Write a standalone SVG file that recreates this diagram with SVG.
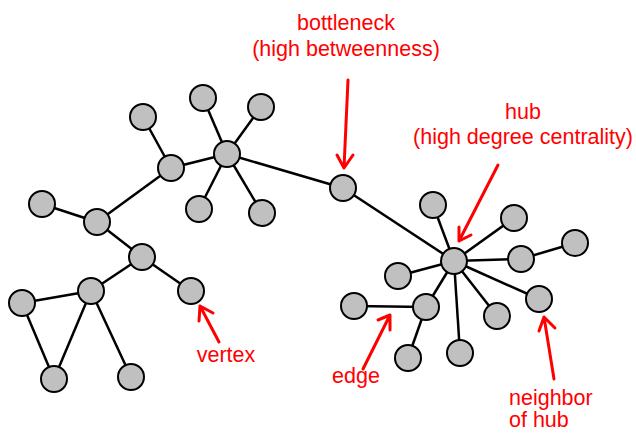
<svg xmlns="http://www.w3.org/2000/svg" width="636" height="433" viewBox="0 0 636 433">
<style>
.e{stroke:#000;stroke-width:2.5;fill:none}
.n{fill:#c0c0c0;stroke:#000;stroke-width:2}
.a{stroke:#ff0000;stroke-width:3;fill:none;stroke-linecap:round;stroke-linejoin:round}
.t{fill:#ff0000;font-family:"Liberation Sans",Arial,sans-serif;font-size:21.5px;text-anchor:middle}
.s{text-anchor:start}
</style>
<rect width="636" height="433" fill="#fff"/>
<g id="edges">
<line class="e" x1="143" y1="117" x2="171" y2="168"/>
<line class="e" x1="171" y1="168" x2="227" y2="154"/>
<line class="e" x1="227" y1="154" x2="203" y2="98"/>
<line class="e" x1="227" y1="154" x2="261" y2="107"/>
<line class="e" x1="227" y1="154" x2="199" y2="209"/>
<line class="e" x1="227" y1="154" x2="262" y2="213"/>
<line class="e" x1="227" y1="154" x2="343" y2="188"/>
<line class="e" x1="171" y1="168" x2="97" y2="222"/>
<line class="e" x1="42" y1="204" x2="97" y2="222"/>
<line class="e" x1="97" y1="222" x2="142" y2="257"/>
<line class="e" x1="142" y1="257" x2="91" y2="291"/>
<line class="e" x1="142" y1="257" x2="191" y2="291"/>
<line class="e" x1="91" y1="291" x2="22" y2="303"/>
<line class="e" x1="91" y1="291" x2="54" y2="379"/>
<line class="e" x1="22" y1="303" x2="54" y2="379"/>
<line class="e" x1="91" y1="291" x2="131" y2="377"/>
<line class="e" x1="343" y1="188" x2="454" y2="261"/>
<line class="e" x1="454" y1="261" x2="433" y2="205"/>
<line class="e" x1="454" y1="261" x2="514" y2="218"/>
<line class="e" x1="454" y1="261" x2="521" y2="259"/>
<line class="e" x1="521" y1="259" x2="575" y2="243"/>
<line class="e" x1="454" y1="261" x2="398" y2="276"/>
<line class="e" x1="454" y1="261" x2="539" y2="299"/>
<line class="e" x1="454" y1="261" x2="426" y2="307"/>
<line class="e" x1="454" y1="261" x2="497" y2="316"/>
<line class="e" x1="454" y1="261" x2="460" y2="353"/>
<line class="e" x1="426" y1="307" x2="354" y2="306"/>
<line class="e" x1="426" y1="307" x2="408" y2="358"/>
</g>
<g id="n1"><circle class="n" cx="143" cy="117" r="13"/></g>
<g id="n2"><circle class="n" cx="171" cy="168" r="13"/></g>
<g id="n3"><circle class="n" cx="227" cy="154" r="13"/></g>
<g id="n4"><circle class="n" cx="203" cy="98" r="13"/></g>
<g id="n5"><circle class="n" cx="261" cy="107" r="13"/></g>
<g id="n6"><circle class="n" cx="199" cy="209" r="13"/></g>
<g id="n7"><circle class="n" cx="262" cy="213" r="13"/></g>
<g id="n8"><circle class="n" cx="42" cy="204" r="13"/></g>
<g id="n9"><circle class="n" cx="97" cy="222" r="13"/></g>
<g id="n10"><circle class="n" cx="142" cy="257" r="13"/></g>
<g id="n11"><circle class="n" cx="91" cy="291" r="13"/></g>
<g id="n12"><circle class="n" cx="191" cy="291" r="13"/></g>
<g id="n13"><circle class="n" cx="22" cy="303" r="13"/></g>
<g id="n14"><circle class="n" cx="54" cy="379" r="13"/></g>
<g id="n15"><circle class="n" cx="131" cy="377" r="13"/></g>
<g id="n16"><circle class="n" cx="343" cy="188" r="13"/></g>
<g id="n17"><circle class="n" cx="454" cy="261" r="13"/></g>
<g id="n18"><circle class="n" cx="433" cy="205" r="13"/></g>
<g id="n19"><circle class="n" cx="514" cy="218" r="13"/></g>
<g id="n20"><circle class="n" cx="521" cy="259" r="13"/></g>
<g id="n21"><circle class="n" cx="575" cy="243" r="13"/></g>
<g id="n22"><circle class="n" cx="398" cy="276" r="13"/></g>
<g id="n23"><circle class="n" cx="539" cy="299" r="13"/></g>
<g id="n24"><circle class="n" cx="426" cy="307" r="13"/></g>
<g id="n25"><circle class="n" cx="354" cy="306" r="13"/></g>
<g id="n26"><circle class="n" cx="497" cy="316" r="13"/></g>
<g id="n27"><circle class="n" cx="408" cy="358" r="13"/></g>
<g id="n28"><circle class="n" cx="460" cy="353" r="13"/></g>
<g id="annotations">
<path class="a" d="M348 80 L344 168 M337 155 L344 168 L353 155"/>
<path class="a" d="M498 165 L459 241 M459 227 L459 241 L471 235"/>
<path class="a" d="M363 369 L390 315 M378 320 L390 315 L390 330"/>
<path class="a" d="M554 379 L544 317 M539 331 L544 317 L555 328"/>
<path class="a" d="M219 342 L200 306 M199 321 L200 306 L213 313"/>
<text class="t" x="346" y="30">bottleneck</text>
<text class="t" x="346" y="56">(high betweenness)</text>
<text class="t" x="523" y="119">hub</text>
<text class="t" x="523" y="144">(high degree centrality)</text>
<text class="t" x="226" y="362">vertex</text>
<text class="t" x="356" y="383">edge</text>
<text class="t s" x="509" y="405">neighbor</text>
<text class="t s" x="509" y="427">of hub</text>
</g>
</svg>
